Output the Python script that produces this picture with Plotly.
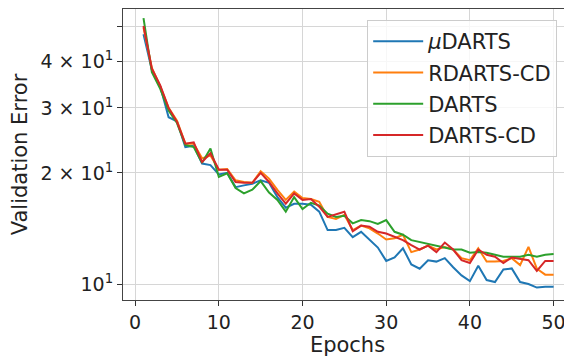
import plotly.graph_objects as go
import math

epochs = list(range(1, 51))

mu_darts = [47.5, 38.0, 34.3, 28.3, 27.6, 23.5, 23.7, 21.2, 21.0, 19.8,
            20.0, 18.3, 18.5, 18.7, 19.1, 18.8, 17.2, 16.1, 16.5, 16.5,
            16.4, 15.7, 14.0, 14.0, 14.2, 13.4, 13.85, 13.2, 12.55, 11.55,
            11.8, 12.5, 11.3, 11.0, 11.6, 11.5, 11.75, 11.1, 10.55, 10.18,
            11.2, 10.25, 10.12, 10.95, 11.02, 10.12, 10.0, 9.78, 9.83, 9.83]

rdarts_cd = [49.5, 38.5, 34.3, 30.0, 27.7, 24.0, 24.0, 21.9, 22.3, 20.4,
             20.5, 19.1, 18.9, 18.8, 20.2, 19.3, 18.0, 16.9, 17.8, 17.1,
             17.0, 16.7, 15.2, 15.0, 15.4, 14.0, 14.4, 14.15, 13.7, 13.2,
             13.3, 13.6, 12.2, 12.4, 12.7, 12.4, 12.6, 12.4, 11.75, 11.6,
             12.5, 11.5, 11.5, 11.55, 11.75, 11.25, 12.6, 11.0, 10.6, 10.6]

darts = [52.5, 37.5, 33.8, 29.5, 27.3, 23.8, 23.5, 21.3, 23.3, 19.5,
         19.95, 18.2, 17.6, 18.0, 19.0, 17.7, 16.9, 15.7, 17.2, 15.95,
         16.6, 16.3, 15.5, 15.2, 15.3, 14.6, 14.9, 14.8, 14.55, 14.9,
         13.85, 13.6, 13.15, 13.0, 12.8, 12.7, 12.55, 12.4, 12.4, 12.15,
         12.2, 12.15, 12.0, 11.85, 11.85, 11.85, 12.0, 11.85, 12.0, 12.05]

darts_cd = [50.0, 38.3, 34.5, 30.0, 27.5, 24.0, 24.2, 21.4, 22.6, 20.4,
            20.4, 18.9, 18.8, 18.8, 20.0, 18.9, 17.6, 16.5, 17.6, 16.9,
            17.0, 16.2, 15.2, 15.45, 15.7, 13.9, 14.4, 14.3, 13.85, 13.7,
            13.4, 13.15, 12.75, 12.4, 12.7, 12.2, 12.95, 12.4, 11.6, 11.4,
            12.4, 12.0, 11.85, 11.4, 11.8, 11.7, 11.6, 10.85, 11.55, 11.55]

series_names = ["<i>μ</i>DARTS", "RDARTS-CD", "DARTS", "DARTS-CD"]
series_values = [mu_darts, rdarts_cd, darts, darts_cd]
colors = ["#1f77b4", "#ff7f0e", "#2ca02c", "#d62728"]

x_ticks = [0, 10, 20, 30, 40, 50]
y_ticks = [10, 20, 30, 40, 50]
y_tick_text = ["10<sup>1</sup>", "2 × 10<sup>1</sup>", "3 × 10<sup>1</sup>",
               "4 × 10<sup>1</sup>", ""]

FONT = "DejaVu Sans"
TXT = "#222222"

fig = go.Figure()
for i, (name, vals, col) in enumerate(zip(series_names, series_values, colors)):
    fig.add_trace(go.Scatter(
        x=epochs, y=vals, mode="lines", name=name,
        line=dict(color=col, width=2),
        legendgroup=f"g{i}",
    ))

# the page body adds an 8px margin, so the figure is sized to fit the 572x358 window
fig.update_layout(
    width=564, height=350,
    margin=dict(l=115, r=0, t=1, b=58, autoexpand=False),
    paper_bgcolor="white", plot_bgcolor="white",
    font=dict(family=FONT, color=TXT),
    showlegend=True,
    legend=dict(
        x=0.967, xanchor="right", y=0.962, yanchor="top",
        font=dict(family=FONT, size=21, color=TXT),
        bordercolor="#cccccc", borderwidth=1,
        bgcolor="rgba(255,255,255,0.8)",
        tracegroupgap=1, itemwidth=50,
    ),
)

fig.update_xaxes(
    range=[-1.45, 52.2],
    tickvals=x_ticks,
    ticks="outside", ticklen=5, tickcolor="#333333",
    tickfont=dict(family=FONT, size=19, color=TXT),
    showgrid=True, gridcolor="#d6d6d6", gridwidth=1,
    showline=True, linecolor="#444444", linewidth=1, mirror=True,
    zeroline=False, automargin=False,
    title=dict(text="Epochs", font=dict(family=FONT, size=21, color=TXT), standoff=4),
)

fig.update_yaxes(
    type="log",
    range=[math.log10(9.05), math.log10(55.6)],
    tickvals=y_ticks, ticktext=y_tick_text,
    ticks="outside", ticklen=5, tickcolor="#333333",
    tickfont=dict(family=FONT, size=19, color=TXT),
    showgrid=True, gridcolor="#d6d6d6", gridwidth=1,
    showline=True, linecolor="#444444", linewidth=1,
    zeroline=False, automargin=False,
    title=dict(text="Validation Error", font=dict(family=FONT, size=21, color=TXT), standoff=8),
)

fig.write_html("out.html")
